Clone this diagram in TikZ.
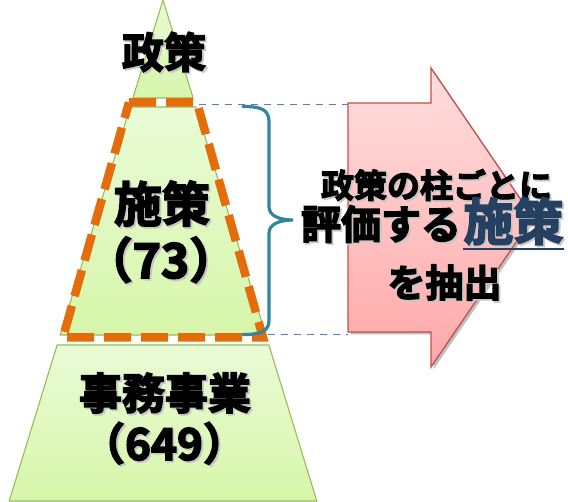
\documentclass[tikz,border=0pt]{standalone}
\usepackage{fontspec}
\newfontfamily\jp{Noto Sans CJK JP Bold}[FakeBold=3.5]
\usetikzlibrary{shadows}
\definecolor{pgreen}{HTML}{9BBB59}
\definecolor{gtop}{HTML}{E9FBD5}
\definecolor{gbot}{HTML}{D7F6AA}
\definecolor{orng}{HTML}{E46C0A}
\definecolor{teal}{HTML}{31859C}
\definecolor{dblue}{HTML}{4F81BD}
\definecolor{rborder}{HTML}{C0504D}
\definecolor{rtop}{HTML}{FFDEDE}
\definecolor{rbot}{HTML}{FFA8A8}
\definecolor{navy}{HTML}{254061}
\newcommand\shd[1]{\leavevmode\rlap{\smash{\kern1.8pt\raisebox{-1.8pt}{\color{black!22}#1}}}#1}
\newcommand\fs[1]{\fontsize{#1}{#1}\selectfont}
\begin{document}
\begin{tikzpicture}[x=1pt,y=-1pt,
  lvl/.style={draw=pgreen, line width=1.1pt, top color=gtop, bottom color=gbot},
  txt/.style={inner sep=0pt, font=\jp},
  guide/.style={draw=dblue, line width=1.4pt, dash pattern=on 7pt off 6pt},
  focus/.style={draw=orng, line width=8.5pt, dash pattern=on 27pt off 10pt},
  bracestyle/.style={draw=teal, line width=3.2pt, line cap=round},
  arrowstyle/.style={draw=rborder, line width=1.3pt, top color=rtop, bottom color=rbot,
    drop shadow={shadow xshift=2.5pt, shadow yshift=-2.5pt, opacity=0.25, fill=black}}]
\useasboundingbox (0,0) rectangle (568,502);
% pyramid levels
\path[lvl] (163,0) -- (193.1,98) -- (132.9,98) -- cycle;
\path[lvl] (130.2,107) -- (195.8,107) -- (265.8,335) -- (60.2,335) -- cycle;
\path[lvl] (57.1,345) -- (268.9,345) -- (316.8,501) -- (9.2,501) -- cycle;
% focus frame
\coordinate (fTL) at (129,102.5);
\coordinate (fTR) at (197,102.5);
\coordinate (fBR) at (263,337.5);
\coordinate (fBL) at (63,337.5);
\draw[focus] (fTL) -- (fTR) -- (fBR) -- (fBL) -- cycle;
% arrow
\coordinate (aTL) at (348,104.5);
\coordinate (aBL) at (348,334.5);
\path[arrowstyle] (348,103) -- (431,103) -- (431,68) -- (533,217.5) -- (431,367) -- (431,332) -- (348,332) -- cycle;
% guide lines
\coordinate (gT) at (199,104.5);
\coordinate (gB) at (268,334.5);
\draw[guide] (gT) -- (aTL);
\draw[guide] (gB) -- (aBL);
% brace
\draw[bracestyle] (243,106.5) .. controls (262,106.5) and (269,110) .. (269,122) -- (269,207)
  .. controls (269,216) and (280,220) .. (293,220)
  .. controls (280,220) and (269,224) .. (269,233) -- (269,320)
  .. controls (269,331) and (262,334.5) .. (243,334.5);
% pyramid texts
\node[txt, font=\jp\fs{42}] (t1) at (164,52) {\shd{政策}};
\node[txt, font=\jp\fs{48}] (t2) at (162,203.5) {\shd{施策}};
\node[txt, font=\jp\fs{48}, anchor=base] (t3) at (161,278) {\shd{（73）}};
\node[txt, font=\jp\fs{43}] (t4) at (165,393) {\shd{事務事業}};
\node[txt, font=\jp\fs{44}, anchor=base] (t5) at (164,460) {\shd{（649）}};
% right texts
\node[txt, font=\jp\fs{33}] (r1) at (436.5,185) {\shd{政策の柱ごとに}};
\node[txt, font=\jp\fs{40}] (r2) at (381,224) {\shd{評価する}};
\node[txt, font=\jp\fs{50}, text=navy] (r3) at (513.5,221) {\shd{施策}};
\draw[navy, line width=2.5pt] ([yshift=-4pt]r3.south west) -- ([yshift=-4pt]r3.south east);
\node[txt, font=\jp\fs{38}] (r4) at (444.5,282.5) {\shd{を抽出}};
\end{tikzpicture}
\end{document}
